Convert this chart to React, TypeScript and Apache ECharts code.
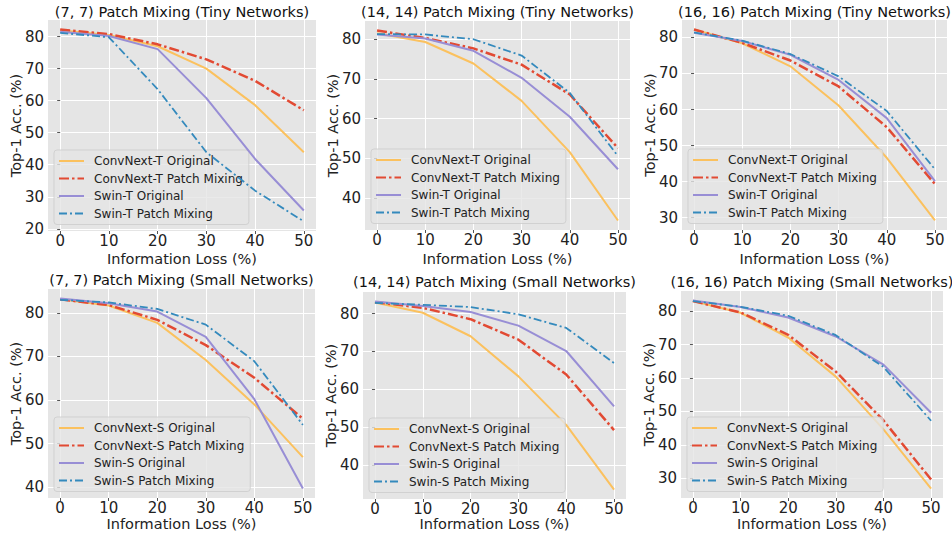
import React, { useEffect, useRef } from "react";
import * as echarts from "echarts";

// ---------------- DATA ----------------
const X_VALUES = [0, 10, 20, 30, 40, 50];
const X_TICKS = [0, 10, 20, 30, 40, 50];

const TINY_NAMES = ["ConvNext-T Original", "ConvNext-T Patch Mixing", "Swin-T Original", "Swin-T Patch Mixing"];
const SMALL_NAMES = ["ConvNext-S Original", "ConvNext-S Patch Mixing", "Swin-S Original", "Swin-S Patch Mixing"];

const TITLES = [
  "(7, 7) Patch Mixing (Tiny Networks)",
  "(14, 14) Patch Mixing (Tiny Networks)",
  "(16, 16) Patch Mixing (Tiny Networks)",
  "(7, 7) Patch Mixing (Small Networks)",
  "(14, 14) Patch Mixing (Small Networks)",
  "(16, 16) Patch Mixing (Small Networks)",
];

const X_NAME = "Information Loss (%)";
const Y_NAME = "Top-1 Acc. (%)";

const tiny7ConvOrig = [82.0, 80.5, 77.0, 70.0, 58.6, 43.9];
const tiny7ConvPM = [82.2, 80.8, 77.6, 72.9, 66.2, 57.0];
const tiny7SwinOrig = [81.5, 80.2, 76.1, 60.8, 41.8, 25.7];
const tiny7SwinPM = [81.2, 79.8, 63.6, 43.9, 31.9, 22.3];

const tiny14ConvOrig = [81.5, 79.3, 73.9, 64.5, 51.6, 34.4];
const tiny14ConvPM = [82.2, 80.3, 77.7, 73.6, 66.1, 52.6];
const tiny14SwinOrig = [81.2, 80.2, 77.1, 70.3, 60.5, 47.3];
const tiny14SwinPM = [81.3, 81.2, 80.0, 75.9, 66.5, 50.6];

const tiny16ConvOrig = [82.2, 78.4, 72.0, 61.1, 46.6, 29.2];
const tiny16ConvPM = [82.2, 78.5, 73.6, 66.4, 55.1, 39.3];
const tiny16SwinOrig = [81.3, 79.0, 75.2, 68.2, 57.6, 40.1];
const tiny16SwinPM = [81.4, 79.1, 75.4, 69.2, 59.6, 43.4];

const small7ConvOrig = [83.1, 81.7, 77.7, 69.2, 59.0, 46.9];
const small7ConvPM = [83.1, 81.8, 78.4, 72.6, 65.1, 55.7];
const small7SwinOrig = [83.3, 82.2, 80.3, 74.5, 60.2, 39.7];
const small7SwinPM = [83.0, 82.4, 80.9, 77.3, 68.9, 54.3];

const small14ConvOrig = [82.9, 80.2, 74.0, 63.4, 50.6, 33.5];
const small14ConvPM = [83.0, 81.5, 78.5, 73.1, 63.9, 49.2];
const small14SwinOrig = [83.2, 82.0, 80.4, 76.8, 70.1, 55.5];
const small14SwinPM = [82.8, 82.3, 81.7, 79.8, 76.2, 66.9];

const small16ConvOrig = [83.0, 79.5, 72.1, 60.4, 44.6, 26.9];
const small16ConvPM = [83.0, 79.6, 72.9, 61.9, 47.3, 29.6];
const small16SwinOrig = [83.2, 81.2, 78.1, 72.4, 64.0, 49.6];
const small16SwinPM = [83.0, 81.3, 78.6, 72.8, 63.3, 47.2];

const Y_TICKS_TINY7 = [20, 30, 40, 50, 60, 70, 80];
const Y_TICKS_TINY14 = [40, 50, 60, 70, 80];
const Y_TICKS_TINY16 = [30, 40, 50, 60, 70, 80];
const Y_TICKS_SMALL7 = [40, 50, 60, 70, 80];
const Y_TICKS_SMALL14 = [40, 50, 60, 70, 80];
const Y_TICKS_SMALL16 = [30, 40, 50, 60, 70, 80];

const PANEL_VALUES = [
  [tiny7ConvOrig, tiny7ConvPM, tiny7SwinOrig, tiny7SwinPM],
  [tiny14ConvOrig, tiny14ConvPM, tiny14SwinOrig, tiny14SwinPM],
  [tiny16ConvOrig, tiny16ConvPM, tiny16SwinOrig, tiny16SwinPM],
  [small7ConvOrig, small7ConvPM, small7SwinOrig, small7SwinPM],
  [small14ConvOrig, small14ConvPM, small14SwinOrig, small14SwinPM],
  [small16ConvOrig, small16ConvPM, small16SwinOrig, small16SwinPM],
];
const PANEL_NAMES = [TINY_NAMES, TINY_NAMES, TINY_NAMES, SMALL_NAMES, SMALL_NAMES, SMALL_NAMES];
const PANEL_Y_TICKS = [Y_TICKS_TINY7, Y_TICKS_TINY14, Y_TICKS_TINY16, Y_TICKS_SMALL7, Y_TICKS_SMALL14, Y_TICKS_SMALL16];

// ---------------- LAYOUT / STYLE ----------------
const GRIDS = [
  { left: 48, top: 20, width: 268, height: 211 },
  { left: 365, top: 21, width: 265, height: 209 },
  { left: 682, top: 20, width: 265, height: 210 },
  { left: 48, top: 289, width: 267, height: 209 },
  { left: 363, top: 292, width: 263, height: 207 },
  { left: 681, top: 291, width: 262, height: 207 },
];
const TITLE_Y = [12, 12, 12, 280, 282, 282];
const YNAME_X = [16, 333, 650, 16, 331, 649];
const XNAME_Y = [259, 259, 259, 524, 524, 524];

const LINE_STYLES = [
  { color: "#FBC15E", type: "solid", width: 2 },
  { color: "#E24A33", type: [10, 3, 2.5, 3], width: 2.5 },
  { color: "#988ED5", type: "solid", width: 2 },
  { color: "#348ABD", type: [8, 3, 2, 3], width: 1.8 },
];

const FONT = "'DejaVu Sans', sans-serif";
const BG = "#E5E5E5";

function buildOption() {
  const grid: any[] = [];
  const xAxis: any[] = [];
  const yAxis: any[] = [];
  const series: any[] = [];
  const legend: any[] = [];
  const graphic: any[] = [];

  PANEL_VALUES.forEach((vals, p) => {
    const g = GRIDS[p];
    grid.push({ ...g, show: true, backgroundColor: BG, borderWidth: 0, containLabel: false });
    const all = vals.flat();
    const mn = Math.min(...all);
    const mx = Math.max(...all);
    const pad = (mx - mn) * 0.05;
    const xPad = (X_VALUES[X_VALUES.length - 1] - X_VALUES[0]) * 0.05;

    xAxis.push({
      type: "value",
      gridIndex: p,
      min: X_VALUES[0] - xPad,
      max: X_VALUES[X_VALUES.length - 1] + xPad,
      axisLine: { show: false },
      axisTick: { show: true, length: 3, lineStyle: { color: "#555", width: 1 }, customValues: X_TICKS },
      axisLabel: { customValues: X_TICKS, fontSize: 15, color: "#222", fontFamily: FONT, margin: 2 },
      splitLine: { show: true, lineStyle: { color: "#FFFFFF", width: 1 } },
    });
    yAxis.push({
      type: "value",
      gridIndex: p,
      min: mn - pad,
      max: mx + pad,
      axisLine: { show: false },
      axisTick: { show: true, length: 3, lineStyle: { color: "#555", width: 1 }, customValues: PANEL_Y_TICKS[p] },
      axisLabel: { customValues: PANEL_Y_TICKS[p], fontSize: 15, color: "#222", fontFamily: FONT, margin: 4 },
      splitLine: { show: true, lineStyle: { color: "#FFFFFF", width: 1 } },
    });

    vals.forEach((v, s) => {
      series.push({
        type: "line",
        name: PANEL_NAMES[p][s],
        xAxisIndex: p,
        yAxisIndex: p,
        data: X_VALUES.map((x, i) => [x, v[i]]),
        showSymbol: false,
        symbol: "none",
        lineStyle: { ...LINE_STYLES[s] },
        itemStyle: { color: LINE_STYLES[s].color },
        z: 2 + s,
      });
    });

    legend.push({
      data: PANEL_NAMES[p],
      orient: "vertical",
      left: g.left + 6,
      top: g.top + g.height - 7 - 74,
      itemWidth: 25,
      itemHeight: 12,
      itemGap: 5.5,
      padding: [5, 6, 5, 4],
      backgroundColor: "rgba(229,229,229,0.8)",
      borderColor: "rgba(204,204,204,0.8)",
      borderWidth: 1,
      borderRadius: 3,
      selectedMode: false,
      itemStyle: { opacity: 0 },
      textStyle: { fontSize: 12, color: "#222", fontFamily: FONT, lineHeight: 12, padding: [0, 0, 0, 5] },
    });

    graphic.push({
      type: "text",
      x: g.left + g.width / 2,
      y: TITLE_Y[p],
      style: { text: TITLES[p], textAlign: "center", textVerticalAlign: "middle", fontSize: 14.5, fontFamily: FONT, fill: "#111" },
    });
    graphic.push({
      type: "text",
      x: g.left + g.width / 2,
      y: XNAME_Y[p],
      style: { text: X_NAME, textAlign: "center", textVerticalAlign: "middle", fontSize: 14.5, fontFamily: FONT, fill: "#222" },
    });
    graphic.push({
      type: "text",
      x: YNAME_X[p],
      y: g.top + g.height / 2,
      rotation: Math.PI / 2,
      style: { text: Y_NAME, textAlign: "center", textVerticalAlign: "middle", fontSize: 14.5, fontFamily: FONT, fill: "#222" },
    });
  });

  return {
    animation: false,
    backgroundColor: "#FFFFFF",
    grid,
    xAxis,
    yAxis,
    series,
    legend,
    graphic,
  };
}

export default function App() {
  const ref = useRef<HTMLDivElement>(null);
  useEffect(() => {
    if (!ref.current) return;
    const chart = echarts.init(ref.current, null, { renderer: "svg" });
    chart.setOption(buildOption() as any);
    return () => chart.dispose();
  }, []);
  return (
    <div
      ref={ref}
      style={{ position: "fixed", left: 0, top: 0, width: 952, height: 533 }}
    />
  );
}
